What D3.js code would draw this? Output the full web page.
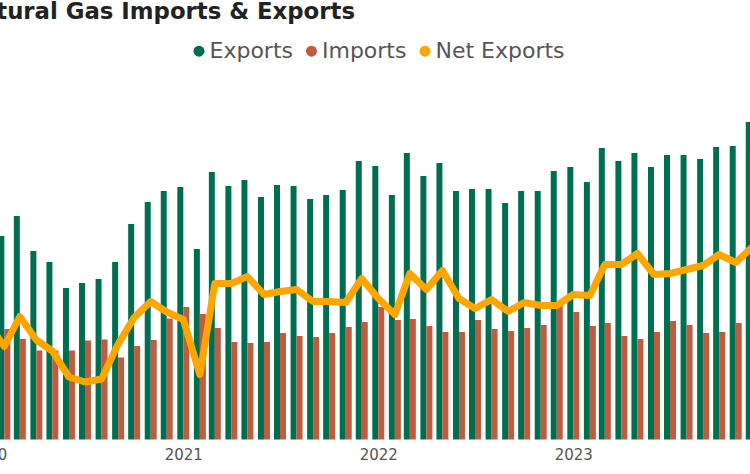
<!DOCTYPE html>
<html>
<head>
<meta charset="utf-8">
<script src="https://cdn.jsdelivr.net/npm/d3@7"></script>
<style>
  html, body { margin: 0; padding: 0; background: #fff; overflow: hidden; }
  svg { display: block; }
</style>
</head>
<body>
<svg id="chart" width="750" height="474"></svg>
<script>
// ---- data (Bcf) ----
const months = [
  "2020-01","2020-02","2020-03","2020-04","2020-05","2020-06","2020-07","2020-08","2020-09","2020-10","2020-11","2020-12",
  "2021-01","2021-02","2021-03","2021-04","2021-05","2021-06","2021-07","2021-08","2021-09","2021-10","2021-11","2021-12",
  "2022-01","2022-02","2022-03","2022-04","2022-05","2022-06","2022-07","2022-08","2022-09","2022-10","2022-11","2022-12",
  "2023-01","2023-02","2023-03","2023-04","2023-05","2023-06","2023-07","2023-08","2023-09","2023-10","2023-11","2023-12"
];
const exportsVals = [
  453,407,447,377,355,303,313,321,355,431,475,497,
  505,381,535,507,519,485,509,507,481,489,499,557,
  547,489,573,527,553,497,501,501,473,497,497,537,
  545,515,583,557,573,545,569,569,561,585,587,635
];
const importsVals = [
  220,221,201,178,178,178,198,200,164,187,199,242,
  265,251,223,195,193,195,213,207,205,213,225,235,
  265,239,241,227,215,215,239,221,217,223,229,269,
  255,227,233,207,201,215,237,229,213,215,233,251
];
const netExportsVals = [
  233,186,246,199,177,125,115,121,191,244,276,255,
  240,130,312,312,326,290,296,300,276,276,274,322,
  282,250,332,300,338,282,262,280,256,274,268,268,
  290,288,350,350,372,330,332,340,348,370,354,384
];
const tickYears = ["2020","2021","2022","2023","2024"];
const seriesNames = ["Exports","Imports","Net Exports"];
const titleText = "Natural Gas Imports & Exports";

// ---- styles ----
const colors = { "Exports": "#006f51", "Imports": "#c05b3f", "Net Exports": "#ffa500" };
const font = "'DejaVu Sans', Verdana, sans-serif";

const svg = d3.select("#chart");
const parse = d3.utcParse("%Y-%m");
const dates = months.map(parse);

const x = d3.scaleUtc()
  .domain([new Date(Date.UTC(2021,0,1)), new Date(Date.UTC(2023,0,1))])
  .range([183.3, 573.3]);
const y = d3.scaleLinear().domain([0, 700]).range([439.5, 89.5]);

const minGap = x(new Date(Date.UTC(2021,2,1))) - x(new Date(Date.UTC(2021,1,1)));
const bw = minGap * 0.4;

const rows = dates.map((d, i) => ({ d, ex: exportsVals[i], im: importsVals[i], net: netExportsVals[i] }));

// bars
const gBars = svg.append("g");
gBars.selectAll("rect.ex").data(rows).join("rect")
  .attr("class", "ex")
  .attr("x", r => x(r.d) - bw)
  .attr("width", bw)
  .attr("y", r => y(r.ex))
  .attr("height", r => y(0) - y(r.ex))
  .attr("fill", colors["Exports"]);
gBars.selectAll("rect.im").data(rows).join("rect")
  .attr("class", "im")
  .attr("x", r => x(r.d))
  .attr("width", bw)
  .attr("y", r => y(r.im))
  .attr("height", r => y(0) - y(r.im))
  .attr("fill", colors["Imports"]);

// net exports line
const line = d3.line().x(r => x(r.d)).y(r => y(r.net));
svg.append("path")
  .datum(rows)
  .attr("d", line)
  .attr("fill", "none")
  .attr("stroke", colors["Net Exports"])
  .attr("stroke-width", 7)
  .attr("stroke-linejoin", "round")
  .attr("stroke-linecap", "round");

// x axis
const tickDates = tickYears.map(t => new Date(Date.UTC(+t, 0, 1)));
const axis = d3.axisBottom(x)
  .tickValues(tickDates)
  .tickFormat((d, i) => tickYears[i])
  .tickSize(0)
  .tickPadding(0);
const gAxis = svg.append("g").attr("transform", "translate(0,444)").call(axis);
gAxis.select(".domain").remove();
gAxis.selectAll("text")
  .attr("dy", null)
  .attr("y", 16)
  .attr("fill", "#555")
  .style("font-family", font)
  .style("font-size", "15px");

// title
svg.append("text")
  .attr("x", 355).attr("y", 18.5)
  .attr("text-anchor", "end")
  .attr("fill", "#222")
  .style("font-family", font)
  .style("font-weight", "bold")
  .style("font-size", "22.8px")
  .text(titleText);

// legend
const gLeg = svg.append("g");
let cx = 199;
seriesNames.forEach(name => {
  gLeg.append("circle").attr("cx", cx).attr("cy", 51.2).attr("r", 5.5).attr("fill", colors[name]);
  const t = gLeg.append("text")
    .attr("x", cx + 10.5).attr("y", 58.3)
    .attr("fill", "#555")
    .style("font-family", font)
    .style("font-size", "22px")
    .text(name);
  cx = cx + 10.5 + t.node().getComputedTextLength() + 18.5;
});
</script>
</body>
</html>
